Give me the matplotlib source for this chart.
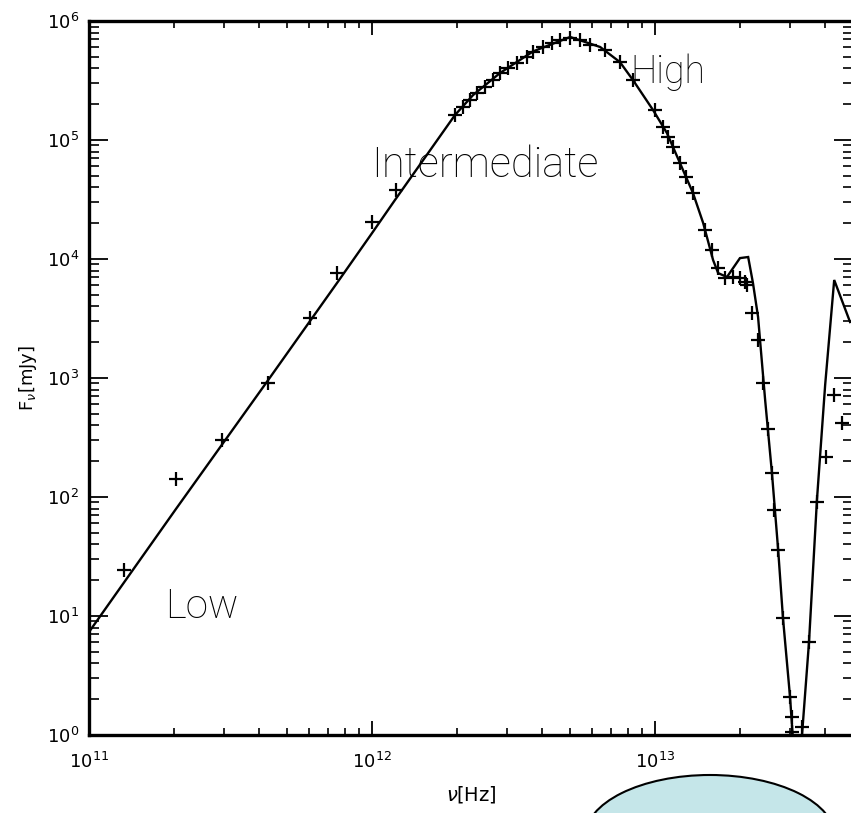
import numpy as np
import matplotlib
matplotlib.use("Agg")
import matplotlib.pyplot as plt
from matplotlib.patches import Ellipse
from matplotlib.ticker import LogLocator, LogFormatterMathtext, NullFormatter

# ---- data (log10 values) ----
model_log_nu = [11.000, 11.307, 11.633, 11.876, 12.000, 12.081, 12.293, 12.357, 12.452,
                12.569, 12.700, 12.806, 12.876, 12.922, 12.993, 13.042, 13.088, 13.134,
                13.170, 13.205, 13.223, 13.254, 13.300, 13.329, 13.346, 13.364, 13.389,
                13.413, 13.435, 13.452, 13.477, 13.502, 13.544, 13.572, 13.601, 13.633,
                13.689]
model_log_F = [0.866, 1.899, 2.983, 3.798, 4.218, 4.496, 5.210, 5.378, 5.563,
               5.745, 5.866, 5.782, 5.655, 5.504, 5.252, 5.059, 4.807, 4.555,
               4.303, 3.992, 3.882, 3.849, 4.008, 4.017, 3.798, 3.513, 2.815,
               2.202, 1.555, 0.983, 0.319, -0.546, 0.782, 1.975, 2.941, 3.824,
               3.471]

data_log_nu = [11.124, 11.307, 11.470, 11.633, 11.781, 11.876, 12.000, 12.085, 12.293,
               12.322, 12.346, 12.371, 12.399, 12.428, 12.452, 12.481, 12.512, 12.548,
               12.569, 12.604, 12.636, 12.664, 12.700, 12.735, 12.770, 12.823, 12.876,
               12.922, 13.000, 13.028, 13.046, 13.064, 13.088, 13.110, 13.134, 13.177,
               13.201, 13.223, 13.247, 13.276, 13.300, 13.318, 13.325, 13.343, 13.364,
               13.382, 13.399, 13.413, 13.420, 13.435, 13.452, 13.477, 13.484, 13.484,
               13.519, 13.544, 13.572, 13.604, 13.633, 13.661]
data_log_F = [1.387, 2.150, 2.479, 2.958, 3.504, 3.882, 4.311, 4.580, 5.210,
              5.277, 5.336, 5.395, 5.445, 5.504, 5.563, 5.605, 5.647, 5.697,
              5.739, 5.782, 5.815, 5.840, 5.857, 5.840, 5.798, 5.756, 5.655,
              5.504, 5.252, 5.109, 5.025, 4.941, 4.807, 4.689, 4.555, 4.244,
              4.076, 3.924, 3.840, 3.849, 3.840, 3.807, 3.782, 3.546, 3.319,
              2.958, 2.571, 2.202, 1.891, 1.555, 0.983, 0.319, 0.151, 0.025,
              0.067, 0.782, 1.958, 2.336, 2.857, 2.622]

region_labels = ["Low", "Intermediate", "High"]

x_limits = (1e11, 5e13)
y_limits = (1e0, 1e6)

# ---- figure ----
fig = plt.figure(figsize=(8.51, 8.13), dpi=100)
ax = fig.add_axes([0.1046, 0.0959, 0.8976, 0.8782])

nu_m = 10 ** np.array(model_log_nu)
F_m = 10 ** np.array(model_log_F)
nu_d = 10 ** np.array(data_log_nu)
F_d = 10 ** np.array(data_log_F)

ax.plot(nu_m, F_m, color="black", lw=1.7, solid_joinstyle="miter")
ax.plot(nu_d, F_d, ls="none", marker="+", ms=10, mew=1.6, color="black")

ax.set_xscale("log")
ax.set_yscale("log")
ax.set_xlim(*x_limits)
ax.set_ylim(*y_limits)

for sp in ax.spines.values():
    sp.set_linewidth(2.4)

for axis in (ax.xaxis, ax.yaxis):
    axis.set_major_locator(LogLocator(base=10, numticks=20))
    axis.set_minor_locator(LogLocator(base=10, subs=np.arange(2, 10), numticks=20))
    axis.set_major_formatter(LogFormatterMathtext())
    axis.set_minor_formatter(NullFormatter())

ax.tick_params(which="both", direction="in", top=True, right=True, color="black")
ax.tick_params(which="major", axis="x", length=10, width=1.3, labelsize=13, pad=12)
ax.tick_params(which="minor", axis="x", length=5, width=1.2)
ax.tick_params(which="major", axis="y", length=14, width=1.3, labelsize=13, pad=7)
ax.tick_params(which="minor", axis="y", length=7, width=1.2)

ax.set_xlabel(r"$\nu$[Hz]", fontsize=14, labelpad=9)
ax.set_ylabel(r"F$_\nu$[mJy]", fontsize=13, labelpad=6)

text_kw = dict(transform=ax.transAxes, family=["Roboto", "Lato", "DejaVu Sans"],
               fontweight="light", color="black", va="baseline", ha="left")
ax.text(0.0995, 0.1639, region_labels[0], fontsize=29, **text_kw)
ax.text(0.3693, 0.7815, region_labels[1], fontsize=30, **text_kw)
ax.text(0.7084, 0.9132, region_labels[2], fontsize=27, **text_kw)

ell = Ellipse((0.8343, -0.0295), 0.2938, 0.1525, transform=fig.transFigure,
              facecolor="#c5e6e9", edgecolor="black", lw=1.5, clip_on=False)
fig.add_artist(ell)

fig.savefig("out.png", dpi=100, facecolor="white")
